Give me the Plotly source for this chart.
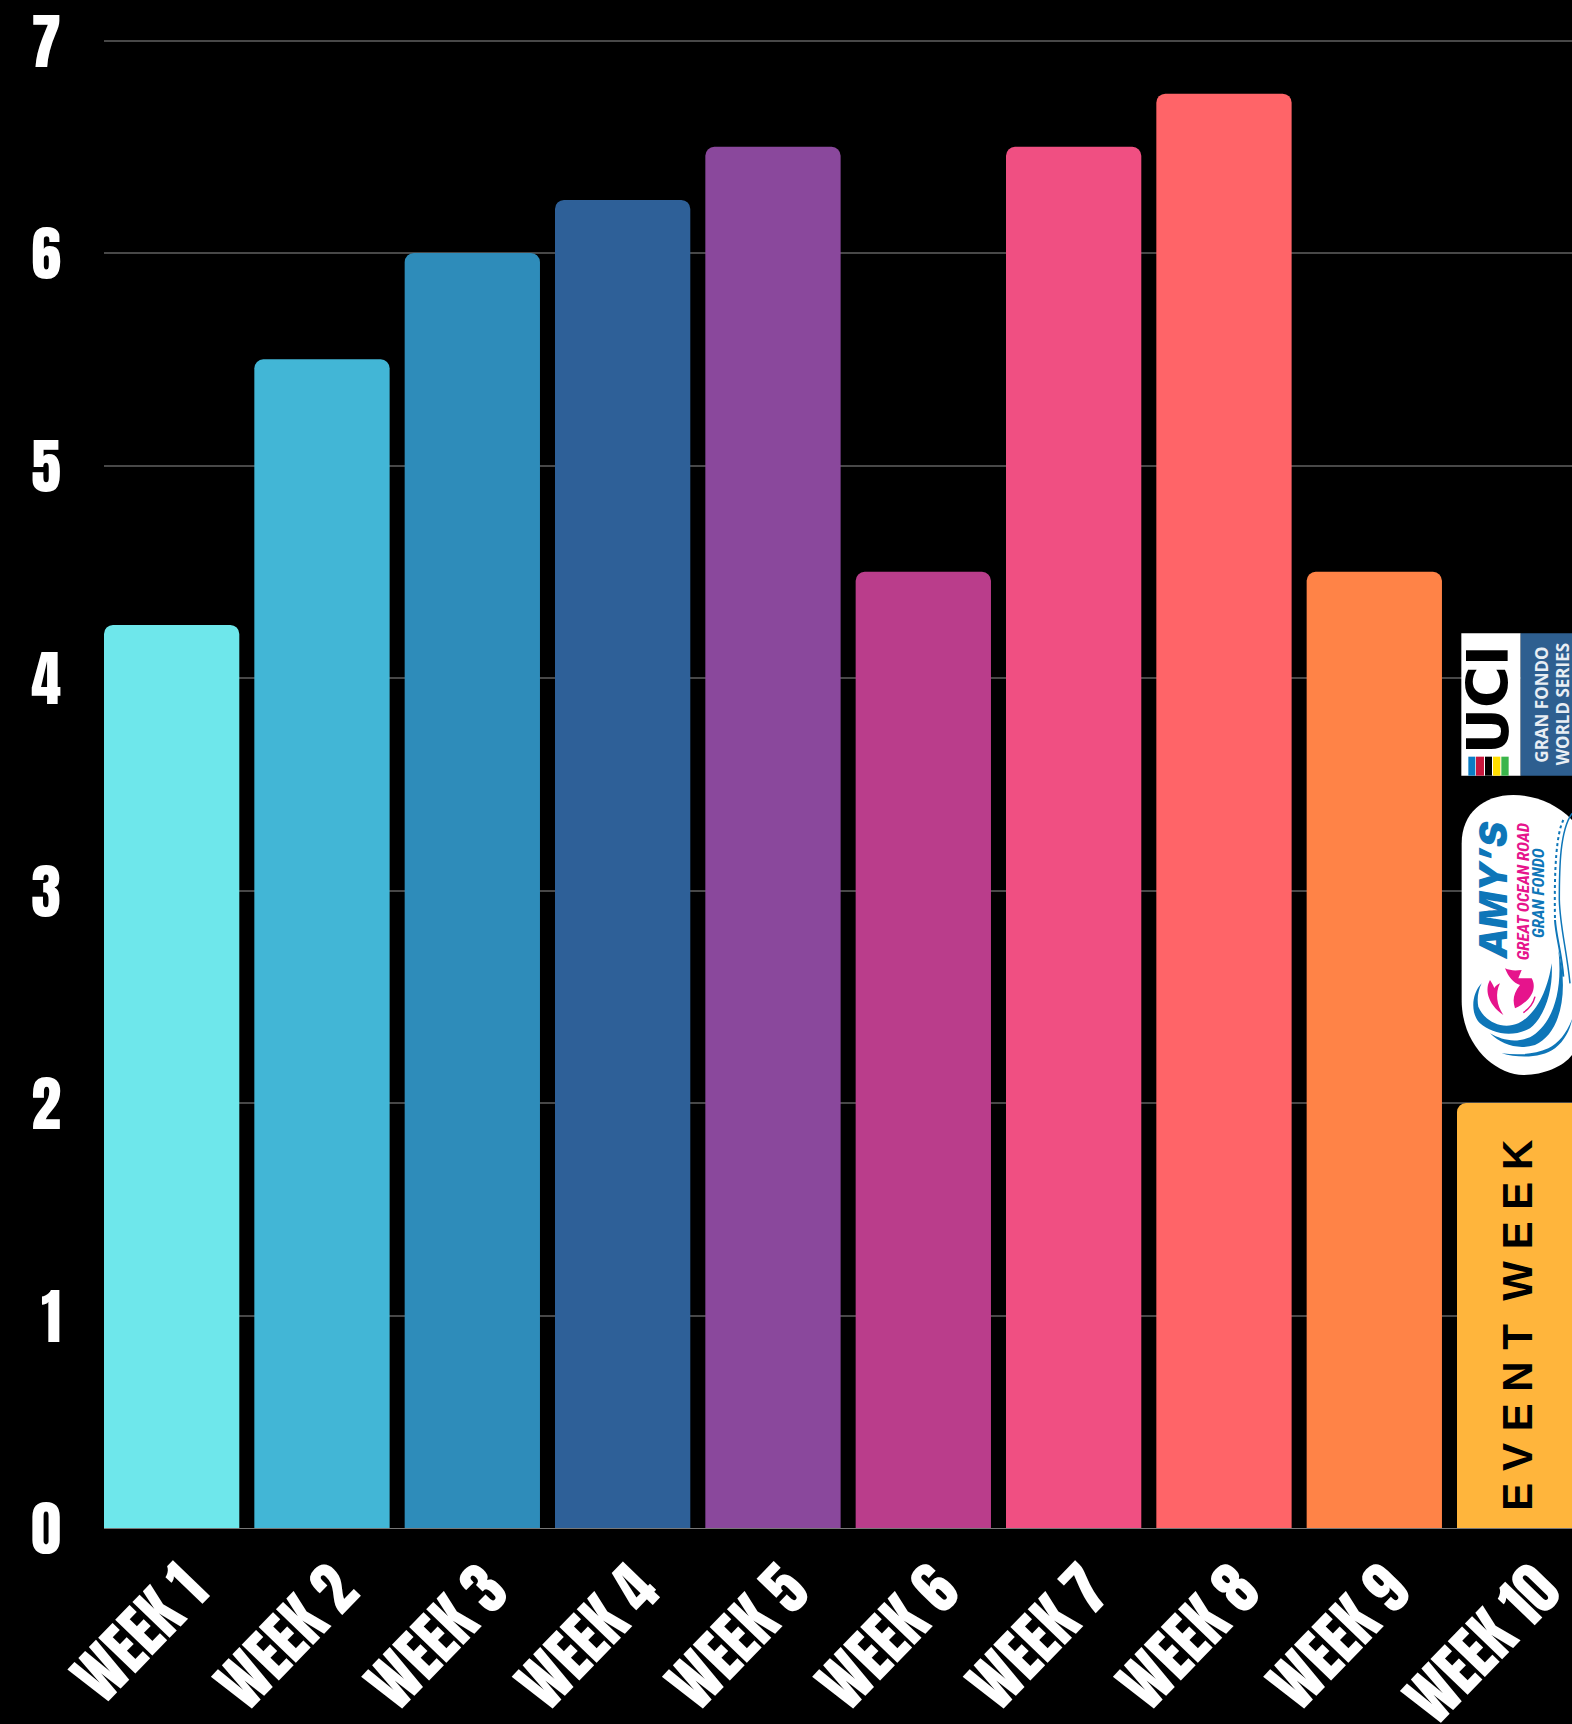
import plotly.graph_objects as go

WEEKS = ["WEEK 1", "WEEK 2", "WEEK 3", "WEEK 4", "WEEK 5", "WEEK 6", "WEEK 7", "WEEK 8", "WEEK 9", "WEEK 10"]
HOURS = [4.25, 5.5, 6, 6.25, 6.5, 4.5, 6.5, 6.75, 4.5, 2]
BAR_COLORS = ["#6EE7EB", "#42B6D6", "#2E8CBA", "#2E6098", "#8A489C", "#BA3D8B", "#F04F82", "#FF6468", "#FF8347", "#FFB53C"]
Y_TICKS = [0, 1, 2, 3, 4, 5, 6, 7]

W, H = 1572, 1724
ML, MR, MT, MB = 104, 0, 0, 196
PW, PH = W - ML - MR, H - MT - MB
HEAVY = "Anton, 'Roboto Condensed', 'Liberation Sans'"
NARROW = "'Roboto Condensed', 'Liberation Sans'"


def px(x):
    return (x - ML) / PW


def py(y):
    return (H - MB - y) / PH


def zx(v):  # logo artwork coordinates
    return px(1400 + v / 3)


def zy(v):
    return py(600 + v / 3)


def path(points, off=(0, 0)):
    out = []
    for item in points:
        if isinstance(item, str):
            out.append(item)
        else:
            out.append(f"{zx(item[0] + off[0]):.5f},{zy(item[1] + off[1]):.5f}")
    return " ".join(out)


def rect(x0, y0, x1, y1, color):
    return dict(type="rect", xref="paper", yref="paper", x0=zx(x0), x1=zx(x1), y0=zy(y0), y1=zy(y1),
                fillcolor=color, line_width=0, layer="above")


def blob(points, fill=None, line=None, width=0, dash=None, off=(0, 0)):
    d = dict(type="path", xref="paper", yref="paper", path=path(points, off), layer="above")
    d["fillcolor"] = fill if fill else "rgba(0,0,0,0)"
    d["line"] = dict(color=line if line else "rgba(0,0,0,0)", width=width)
    if dash:
        d["line"]["dash"] = dash
    return d


def label(text, zxv, zyv, size, color, family="Liberation Sans", weight="bold", style="normal"):
    return dict(text=text, xref="paper", yref="paper", x=zx(zxv), y=zy(zyv), xanchor="center", yanchor="middle",
                textangle=-90, showarrow=False,
                font=dict(family=family, size=size, color=color, weight=weight, style=style))


BLUE = "#0E76B8"
PINK = "#E6148C"
WAVE = (165, 1050)
shapes = [
    rect(184, 100, 362, 527, "#FFFFFF"),
    rect(362, 100, 520, 527, "#2E5F90"),
    rect(205, 470, 226, 527, "#0A7CC4"),
    rect(228, 470, 252, 527, "#C8163C"),
    rect(255, 470, 276, 527, "#000000"),
    rect(279, 470, 301, 527, "#FFDD00"),
    rect(304, 470, 326, 527, "#3AB54A"),
    blob(["M", (516, 660), "C", (470, 610), (400, 585), (340, 585), "C", (250, 585), (185, 640), (185, 730),
          "L", (185, 1200), "C", (185, 1340), (290, 1425), (370, 1425), "C", (430, 1425), (490, 1400), (516, 1365), "Z"],
         fill="#FFFFFF"),
    blob(["M", (80, 100), "C", (50, 130), (45, 190), (75, 220), "C", (110, 250), (170, 265), (225, 235),
          "C", (275, 195), (295, 110), (290, 40), "C", (280, 110), (250, 190), (190, 220),
          "C", (140, 240), (90, 215), (70, 170), "C", (65, 145), (70, 120), (80, 100), "Z"], fill=BLUE, off=WAVE),
    blob(["M", (105, 250), "C", (140, 285), (190, 300), (240, 285), "C", (310, 255), (345, 140), (310, 0),
          "C", (325, 130), (290, 225), (225, 262), "C", (180, 280), (140, 270), (105, 250), "Z"], fill=BLUE, off=WAVE),
    blob(["M", (140, 310), "C", (190, 325), (260, 325), (300, 295), "C", (330, 270), (345, 240), (352, 205),
          "C", (335, 250), (310, 280), (280, 295), "C", (235, 315), (185, 315), (140, 310), "Z"], fill=BLUE, off=WAVE),
    blob(["M", (490, 660), "C", (470, 700), (462, 800), (465, 960)], line=BLUE, width=2, dash="dot"),
    blob(["M", (516, 640), "C", (480, 690), (478, 800), (478, 900), "C", (480, 980), (500, 1050), (510, 1150)],
         line=BLUE, width=1.5),
    blob(["M", (465, 960), "C", (468, 1010), (485, 1060), (490, 1130)], line=BLUE, width=2),
    blob(["M", (105, 90), "C", (90, 115), (95, 160), (145, 195), "C", (125, 165), (120, 130), (135, 100),
          "C", (125, 105), (118, 112), (118, 115), "C", (115, 105), (110, 98), (105, 90), "Z"], fill=PINK, off=WAVE),
    blob(["M", (150, 55), "C", (165, 62), (180, 62), (200, 60), "L", (190, 85), "L", (230, 85),
          "C", (245, 110), (235, 150), (180, 175), "C", (172, 150), (175, 130), (195, 105),
          "C", (175, 100), (160, 80), (150, 55), "Z"], fill=PINK, off=WAVE),
    blob(["M", (240, 140), "C", (235, 160), (220, 178), (205, 188)], line=PINK, width=1.5, off=WAVE),
]

annotations = [
    label("UCI", 265, 300, 57, "#000000", family="DejaVu Sans"),
    label("GRAN FONDO", 425, 315, 17, "#E8EEF4", family="Open Sans", weight=700),
    label("WORLD SERIES", 487, 312, 17, "#E8EEF4", family="Open Sans", weight=700),
    label("AMY’S", 280, 870, 38, BLUE, family="Inter", weight=900, style="italic"),
    label("GREAT OCEAN ROAD", 368, 875, 17, PINK, family=NARROW, style="italic"),
    label("GRAN FONDO", 412, 878, 17, BLUE, family=NARROW, style="italic"),
    dict(text="E V E N T  W E E K", xref="paper", yref="paper", x=px(1516.7), y=py(1325), xanchor="center",
         yanchor="middle", textangle=-90, showarrow=False,
         font=dict(family="Liberation Sans", size=42, color="#000000", weight="bold")),
]

fig = go.Figure(go.Bar(x=WEEKS, y=HOURS, marker=dict(color=BAR_COLORS, line_width=0), hoverinfo="skip"))
fig.update_layout(
    width=W, height=H, autosize=False,
    margin=dict(l=ML, r=MR, t=MT, b=MB, pad=0),
    paper_bgcolor="#000000", plot_bgcolor="#000000",
    showlegend=False, bargap=0.1, barcornerradius=9,
    shapes=shapes, annotations=annotations,
)
fig.update_xaxes(
    type="category", range=[-0.45, 9.315], automargin=False, showgrid=False, zeroline=False, showline=False,
    ticks="", tickangle=-46, ticklabelstandoff=15, ticklabelshift=18, ticklabeloverflow="allow",
    tickfont=dict(family=HEAVY, size=60, color="#FFFFFF"),
)
fig.update_yaxes(
    range=[0, 7 + 40.5 / 212.5], tickvals=Y_TICKS, automargin=False, showgrid=True, gridcolor="#484848", gridwidth=1.5,
    zeroline=True, zerolinecolor="#777777", zerolinewidth=1, showline=False, ticks="", ticklabelstandoff=42,
    ticklabelshift=5, ticklabeloverflow="allow",
    tickfont=dict(family=HEAVY, size=60, color="#FFFFFF"),
)
fig.write_html("out.html", config={"displayModeBar": False},
               post_script="document.body.style.margin='0';document.body.style.overflow='hidden';")
